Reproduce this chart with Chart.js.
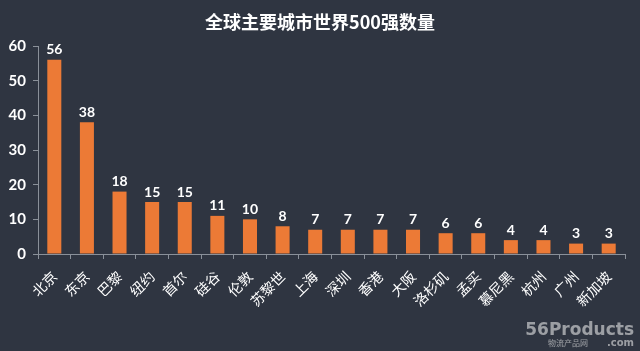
<!DOCTYPE html>
<html>
<head>
<meta charset="utf-8">
<script src="https://cdn.jsdelivr.net/npm/chart.js@4/dist/chart.umd.min.js"></script>
<style>
  html, body { margin: 0; padding: 0; background: #2f3541; }
  #wrap { width: 640px; height: 351px; }
</style>
</head>
<body>
<div id="wrap"><canvas id="myChart" width="640" height="351"></canvas></div>
<script>
// data
let cities = ['北京','东京','巴黎','纽约','首尔','硅谷','伦敦','苏黎世','上海','深圳','香港','大阪','洛杉矶','孟买','慕尼黑','杭州','广州','新加坡'];
let counts = [56,38,18,15,15,11,10,8,7,7,7,7,6,6,4,4,3,3];
let yTicks = [0,10,20,30,40,50,60];
let titleText = '全球主要城市世界500强数量';

var cjk = '"Noto Sans CJK SC", "Noto Sans", sans-serif';

// background + title + value labels + watermark
let decor = {
    id: 'decor',
    beforeDraw(chart) {
        let c = chart.ctx;
        c.save();
        c.fillStyle = '#2f3541';
        c.fillRect(0, 0, chart.width, chart.height);
        c.restore();
    },
    afterDatasetsDraw(chart) {
        let c = chart.ctx;
        c.save();
        c.fillStyle = '#ffffff';
        c.font = 'bold 18px ' + cjk;
        c.textAlign = 'center';
        c.textBaseline = 'middle';
        c.fillText(titleText, 320, 22);

        c.font = 'bold 14px Lato, sans-serif';
        c.textBaseline = 'bottom';
        let meta = chart.getDatasetMeta(0);
        meta.data.forEach(function(bar, i) {
            c.fillText(counts[i], bar.x, bar.y - 3);
        });

        // watermark
        c.globalAlpha = 0.6;
        c.fillStyle = '#e6e6e6';
        c.textAlign = 'right';
        c.textBaseline = 'alphabetic';
        c.font = 'bold 17px "DejaVu Sans", sans-serif';
        c.fillText('56Products', 634, 335);
        c.font = 'bold 10px "DejaVu Sans", sans-serif';
        c.fillText('.com', 634, 346);
        c.textAlign = 'left';
        c.font = '8px ' + cjk;
        c.fillText('物流产品网', 548, 346);
        c.restore();
    }
};

var ct = document.getElementById('myChart');
let chart = new Chart(ct, {
    type: 'bar',
    data: {
        labels: cities,
        datasets: [{
            label: '数量',
            data: counts,
            backgroundColor: '#ec7a36',
            barPercentage: 0.43,
            categoryPercentage: 1
        }]
    },
    options: {
        responsive: false,
        animation: false,
        layout: { padding: { left: 4, right: 15, top: 46, bottom: 0 } },
        plugins: {
            legend: { display: false },
            title: { display: false },
            tooltip: { enabled: false }
        },
        scales: {
            x: {
                grid: { display: true, drawOnChartArea: false, color: '#8a9099', tickLength: 5, offset: true },
                border: { color: '#8a9099' },
                ticks: {
                    color: '#ffffff',
                    font: { family: cjk, size: 14 },
                    maxRotation: 45,
                    minRotation: 45,
                    autoSkip: false,
                    padding: 9
                },
                afterFit(s) { s.height = 97; }
            },
            y: {
                min: 0,
                max: 60,
                afterBuildTicks(s) { s.ticks = yTicks.map(v => ({ value: v })); },
                grid: { drawOnChartArea: false, color: '#8a9099', tickLength: 5 },
                border: { color: '#8a9099' },
                ticks: {
                    color: '#ffffff',
                    font: { family: 'Lato, sans-serif', size: 15, weight: 'bold' },
                    padding: 7
                },
                afterFit(s) { s.width = 34; }
            }
        }
    },
    plugins: [decor]
});
</script>
</body>
</html>
